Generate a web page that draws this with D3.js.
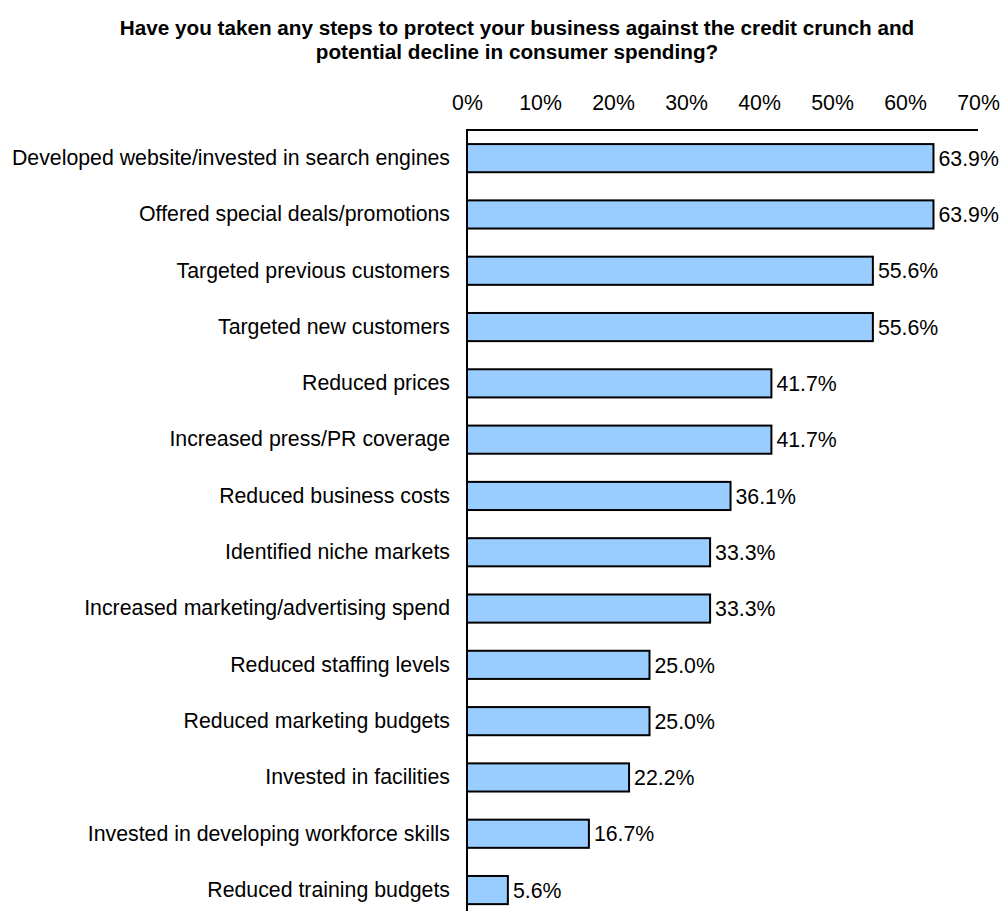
<!DOCTYPE html>
<html>
<head>
<meta charset="utf-8">
<script src="https://cdn.jsdelivr.net/npm/d3@7"></script>
<style>
  html, body { margin: 0; padding: 0; background: #fff; }
  svg { display: block; font-family: "Liberation Sans", Arial, sans-serif; }
</style>
</head>
<body>
<svg id="chart" width="1003" height="911"></svg>
<script>
const titleLines = [
  "Have you taken any steps to protect your business against the credit crunch and",
  "potential decline in consumer spending?"
];
const categories = [
  "Developed website/invested in search engines",
  "Offered special deals/promotions",
  "Targeted previous customers",
  "Targeted new customers",
  "Reduced prices",
  "Increased press/PR coverage",
  "Reduced business costs",
  "Identified niche markets",
  "Increased marketing/advertising spend",
  "Reduced staffing levels",
  "Reduced marketing budgets",
  "Invested in facilities",
  "Invested in developing workforce skills",
  "Reduced training budgets"
];
const values = [63.9, 63.9, 55.6, 55.6, 41.7, 41.7, 36.1, 33.3, 33.3, 25.0, 25.0, 22.2, 16.7, 5.6];
const tickValues = [0, 10, 20, 30, 40, 50, 60, 70];

const svg = d3.select("#chart");
const plotLeft = 467, plotRight = 978, plotTop = 130;
const step = 56.3;
const fontSize = 21.3;

const x = d3.scaleLinear().domain([0, 70]).range([plotLeft, plotRight]);
const y = d3.scaleBand()
  .domain(categories)
  .range([plotTop, plotTop + step * categories.length])
  .paddingInner(0.5)
  .paddingOuter(0.25);

// title
svg.append("g").selectAll("text")
  .data(titleLines)
  .join("text")
  .attr("x", 517)
  .attr("y", (d, i) => 35 + i * 24)
  .attr("text-anchor", "middle")
  .attr("font-size", 20.7)
  .attr("font-weight", "bold")
  .attr("fill", "#000")
  .text(d => d);

// top value axis (labels only, line drawn separately)
const xAxis = d3.axisTop(x)
  .tickValues(tickValues)
  .tickSize(0)
  .tickPadding(0)
  .tickFormat(d => d + "%");
const gx = svg.append("g")
  .attr("transform", `translate(0,${110})`)
  .call(xAxis);
gx.select(".domain").remove();
gx.selectAll("text")
  .attr("font-size", fontSize)
  .attr("font-family", "Liberation Sans, Arial, sans-serif")
  .attr("fill", "#000");

// bars
svg.append("g").selectAll("rect")
  .data(values)
  .join("rect")
  .attr("x", x(0))
  .attr("y", (d, i) => y(categories[i]))
  .attr("width", d => x(d) - x(0))
  .attr("height", y.bandwidth())
  .attr("fill", "#99CCFF")
  .attr("stroke", "#000")
  .attr("stroke-width", 2);

// value labels
svg.append("g").selectAll("text")
  .data(values)
  .join("text")
  .attr("x", d => x(d) + 5)
  .attr("y", (d, i) => y(categories[i]) + y.bandwidth() / 2)
  .attr("dy", "0.36em")
  .attr("font-size", fontSize)
  .attr("fill", "#000")
  .text(d => d.toFixed(1) + "%");

// category axis
const yAxis = d3.axisLeft(y).tickSize(0).tickPadding(17);
const gy = svg.append("g")
  .attr("transform", `translate(${x(0)},0)`)
  .call(yAxis);
gy.select(".domain").remove();
gy.selectAll("text")
  .attr("font-size", fontSize)
  .attr("font-family", "Liberation Sans, Arial, sans-serif")
  .attr("fill", "#000");

// axis lines
svg.append("line")
  .attr("x1", x(0)).attr("x2", plotRight)
  .attr("y1", plotTop).attr("y2", plotTop)
  .attr("stroke", "#000").attr("stroke-width", 2);
svg.append("line")
  .attr("x1", x(0)).attr("x2", x(0))
  .attr("y1", plotTop - 1).attr("y2", 911)
  .attr("stroke", "#000").attr("stroke-width", 2);
</script>
</body>
</html>
